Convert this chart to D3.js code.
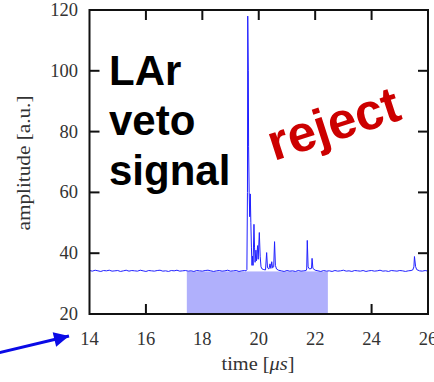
<!DOCTYPE html>
<meta charset="utf-8">
<script src="https://d3js.org/d3.v7.min.js"></script>
<title>LAr veto signal</title>
<style>
  body { margin: 0; background: white; }
  svg { display: block; }
</style>
<body>
<div id="chart"></div>
<script>
// waveform samples, time in microseconds
var times = [
  14.0, 14.1, 14.2, 14.3, 14.4, 14.5, 14.6, 14.7, 14.8, 14.9,
  15.0, 15.1, 15.2, 15.3, 15.4, 15.5, 15.6, 15.7, 15.8, 15.9,
  16.0, 16.1, 16.2, 16.3, 16.4, 16.5, 16.6, 16.7, 16.8, 16.9,
  17.0, 17.1, 17.2, 17.3, 17.4, 17.5, 17.6, 17.7, 17.8, 17.9,
  18.0, 18.1, 18.2, 18.3, 18.4, 18.5, 18.6, 18.7, 18.8, 18.9,
  19.0, 19.1, 19.2, 19.3, 19.4, 19.5, 19.55, 19.58, 19.6, 19.61,
  19.63, 19.64, 19.66, 19.68, 19.7, 19.72, 19.74, 19.76, 19.78, 19.8,
  19.83, 19.85, 19.87, 19.9, 19.92, 19.96, 19.98, 20.02, 20.05, 20.08,
  20.12, 20.18, 20.24, 20.28, 20.31, 20.36, 20.4, 20.43, 20.46, 20.49,
  20.53, 20.56, 20.59, 20.63, 20.7, 20.8, 20.9, 21.0, 21.1, 21.2,
  21.3, 21.4, 21.5, 21.6, 21.68, 21.7, 21.72, 21.75, 21.8, 21.87,
  21.89, 21.92, 22.0, 22.1, 22.2, 22.3, 22.4, 22.5, 22.6, 22.7,
  22.8, 22.9, 23.0, 23.1, 23.2, 23.3, 23.4, 23.5, 23.6, 23.7,
  23.8, 23.9, 24.0, 24.1, 24.2, 24.3, 24.4, 24.5, 24.6, 24.7,
  24.8, 24.9, 25.0, 25.1, 25.2, 25.3, 25.4, 25.46, 25.5, 25.52,
  25.56, 25.6, 25.7, 25.8, 25.9, 26.0
];
var amplitude = [
  34.3, 34.1, 34.4, 34.2, 34.0, 34.3, 34.2, 34.4, 34.1, 34.2,
  34.3, 34.0, 34.2, 34.4, 34.1, 34.3, 34.2, 34.1, 34.4, 34.2,
  34.0, 34.3, 34.2, 34.1, 34.3, 34.4, 34.1, 34.2, 34.0, 34.3,
  34.2, 34.4, 34.1, 34.2, 34.3, 34.1, 34.2, 34.0, 34.3, 34.2,
  34.1, 34.3, 34.4, 34.2, 34.0, 34.2, 34.3, 34.1, 34.2, 34.4,
  34.1, 34.2, 34.3, 34.0, 34.2, 34.3, 34.2, 34.6, 60.0, 118.0,
  100.0, 75.0, 60.0, 52.0, 59.5, 50.0, 42.0, 36.0, 39.0, 36.0,
  49.5, 42.0, 37.0, 41.0, 37.5, 42.5, 38.0, 46.8, 39.0, 35.5,
  34.8, 34.6, 34.5, 40.2, 35.2, 34.8, 36.5, 35.0, 37.2, 35.2,
  35.5, 43.8, 36.0, 34.8, 34.4, 34.2, 34.0, 34.3, 34.1, 34.2,
  34.0, 34.3, 34.1, 34.2, 34.3, 34.8, 44.2, 35.5, 34.8, 35.0,
  38.3, 35.0, 34.4, 34.2, 34.0, 34.3, 34.1, 34.2, 34.0, 34.3,
  34.1, 34.2, 34.4, 34.1, 34.2, 34.0, 34.3, 34.2, 34.1, 34.3,
  34.0, 34.2, 34.3, 34.1, 34.2, 34.4, 34.1, 34.2, 34.0, 34.3,
  34.2, 34.1, 34.3, 34.2, 34.0, 34.2, 34.3, 34.5, 35.5, 38.9,
  35.6, 34.6, 34.2, 34.1, 34.3, 34.1
];
var vetoWindow = [17.45, 22.45];
var vetoLevel = 34.0;
var xTicks = [14, 16, 18, 20, 22, 24, 26];
var yTicks = [20, 40, 60, 80, 100, 120];
var noteLines = ["LAr", "veto", "signal"];

var W = 434, H = 382;
var svg = d3.select("#chart").append("svg")
    .attr("width", W)
    .attr("height", H);

var x = d3.scaleLinear().domain([14, 26]).range([89.5, 428]);
var y = d3.scaleLinear().domain([20, 120]).range([314, 10]);

var serif = "'Liberation Serif', 'DejaVu Serif', serif";
var sans = "'Liberation Sans', Arial, sans-serif";

// inward ticks on all four sides
var inner = [16, 18, 20, 22, 24];
var innerY = [40, 60, 80, 100];
var ticks = svg.append("g").attr("stroke", "#111").attr("stroke-width", 2);
inner.forEach(function(t) {
  ticks.append("line").attr("x1", x(t)).attr("x2", x(t)).attr("y1", y(20)).attr("y2", y(20) - 10);
  ticks.append("line").attr("x1", x(t)).attr("x2", x(t)).attr("y1", y(120)).attr("y2", y(120) + 10);
});
innerY.forEach(function(v) {
  ticks.append("line").attr("x1", x(14)).attr("x2", x(14) + 10).attr("y1", y(v)).attr("y2", y(v));
  ticks.append("line").attr("x1", x(26)).attr("x2", x(26) - 10).attr("y1", y(v)).attr("y2", y(v));
});

// veto window
svg.append("rect")
    .attr("x", x(vetoWindow[0]))
    .attr("y", y(vetoLevel))
    .attr("width", x(vetoWindow[1]) - x(vetoWindow[0]))
    .attr("height", y(20) - y(vetoLevel))
    .attr("fill", "#b0b0fc");

// waveform
var data = times.map(function(t, i) { return [t, amplitude[i]]; });
svg.append("path")
    .datum(data)
    .attr("fill", "none")
    .attr("stroke", "#2020ff")
    .attr("stroke-width", 1)
    .attr("d", d3.line().x(function(d) { return x(d[0]); }).y(function(d) { return y(d[1]); }));

// frame
svg.append("rect")
    .attr("x", x(14)).attr("y", y(120))
    .attr("width", x(26) - x(14)).attr("height", y(20) - y(120))
    .attr("fill", "none").attr("stroke", "#111").attr("stroke-width", 2);

// tick labels
svg.selectAll(".xl").data(xTicks).enter().append("text")
    .attr("x", function(d) { return x(d); })
    .attr("y", 345)
    .attr("text-anchor", "middle")
    .attr("font-family", serif).attr("font-size", 18.5).attr("fill", "#333")
    .text(function(d) { return d; });
svg.selectAll(".yl").data(yTicks).enter().append("text")
    .attr("x", 78)
    .attr("y", function(d) { return y(d) + 6; })
    .attr("text-anchor", "end")
    .attr("font-family", serif).attr("font-size", 18.5).attr("fill", "#333")
    .text(function(d) { return d; });

// axis titles
var xt = svg.append("text")
    .attr("x", 258).attr("y", 370)
    .attr("text-anchor", "middle")
    .attr("textLength", 73).attr("lengthAdjust", "spacingAndGlyphs")
    .attr("font-family", serif).attr("font-size", 18.5).attr("fill", "#333");
xt.append("tspan").text("time [");
xt.append("tspan").attr("font-style", "italic").text("\u03bcs");
xt.append("tspan").text("]");

svg.append("text")
    .attr("transform", "translate(30,163) rotate(-90)")
    .attr("text-anchor", "middle")
    .attr("textLength", 135).attr("lengthAdjust", "spacingAndGlyphs")
    .attr("font-family", serif).attr("font-size", 18).attr("fill", "#333")
    .text("amplitude [a.u.]");

// annotations
svg.selectAll(".note").data(noteLines).enter().append("text")
    .attr("x", 109)
    .attr("y", function(d, i) { return 85 + i * 50; })
    .attr("font-family", sans).attr("font-weight", "bold").attr("font-size", 42)
    .attr("fill", "black")
    .text(function(d) { return d; });

svg.append("text")
    .attr("transform", "translate(274,161) rotate(-18)")
    .attr("font-family", sans).attr("font-weight", "bold").attr("font-size", 51)
    .attr("fill", "#cc0000")
    .text("reject");

// arrow pointing at the axis start
var defs = svg.append("defs");
defs.append("marker")
    .attr("id", "head")
    .attr("viewBox", "0 0 10 10")
    .attr("refX", 10).attr("refY", 5)
    .attr("markerWidth", 5.5).attr("markerHeight", 5)
    .attr("markerUnits", "strokeWidth")
    .attr("orient", "auto")
  .append("path")
    .attr("d", "M0,0 L10,5 L0,10 Z")
    .attr("fill", "#0a0ae6");
svg.append("line")
    .attr("x1", -2).attr("y1", 353)
    .attr("x2", 69).attr("y2", 336)
    .attr("stroke", "#0a0ae6").attr("stroke-width", 3)
    .attr("marker-end", "url(#head)");
</script>
</body>
